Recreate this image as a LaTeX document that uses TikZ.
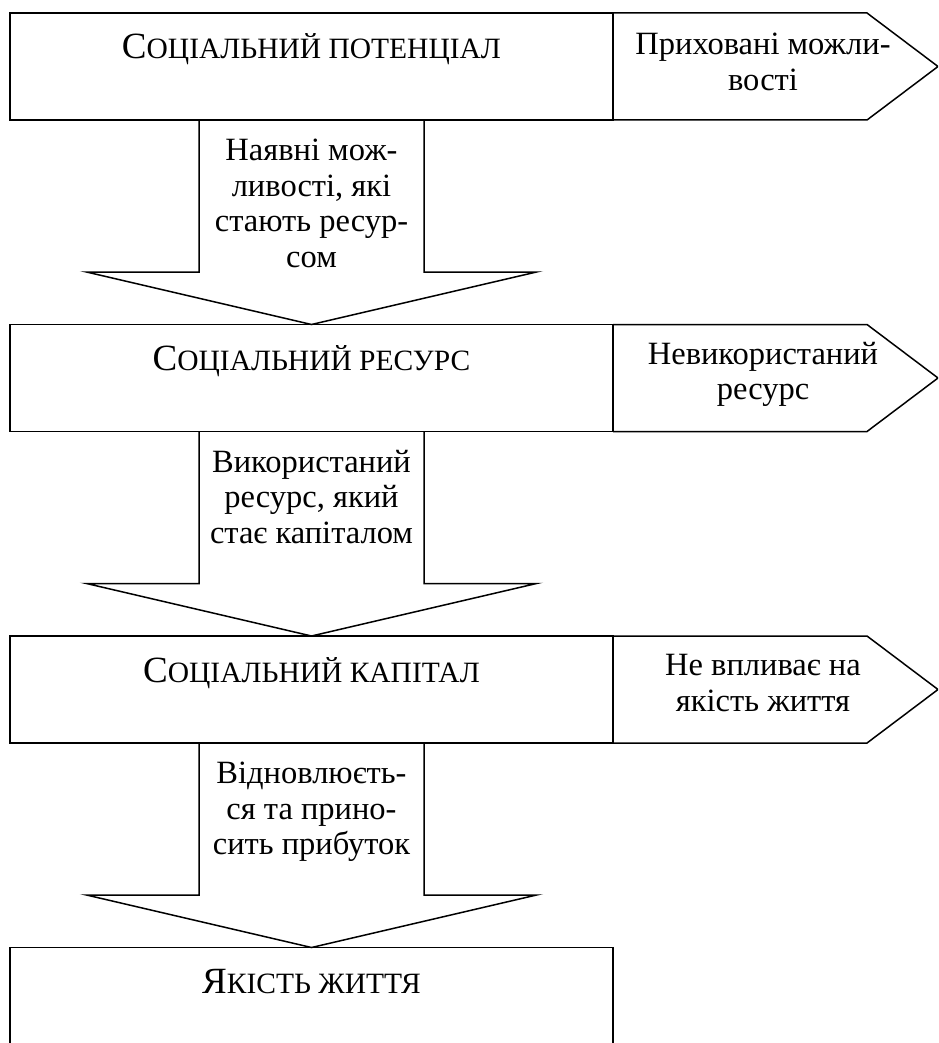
\documentclass[tikz,border=0pt]{standalone}
\usepackage{fontspec}
\setmainfont{Liberation Serif}
\usetikzlibrary{positioning,calc}

% fake small caps: upper-case letters set smaller
\newcommand{\fakesc}[1]{{\fontsize{29.5pt}{29.5pt}\selectfont #1}}

\begin{document}
\begin{tikzpicture}[
  x=1pt, y=-1pt,
  mainbox/.style={rectangle, draw=black, line width=1.5pt, outer sep=0pt,
                  minimum width=603pt, inner xsep=0pt, inner ysep=0pt,
                  text height=46pt, text depth=61pt,
                  font=\rmfamily\fontsize{37pt}{40pt}\selectfont},
  shaftbox/.style={rectangle, outer sep=0pt, inner sep=0pt,
                   minimum width=225pt, minimum height=152pt},
  sidebox/.style={rectangle, outer sep=0pt, inner sep=0pt,
                  minimum width=254pt, minimum height=107pt},
  lbl/.style={align=center, inner sep=0pt, outer sep=0pt,
              font=\rmfamily\fontsize{32.5pt}{35.5pt}\selectfont},
  outline/.style={draw=black, line width=1.5pt, line join=miter}
]
\path[use as bounding box, fill=white] (0,0) rectangle (938,1043);
\clip (0,0) rectangle (938,1043);

% ===== Level 1 — social potential =====================================
\node[mainbox, anchor=north] (pot) at (311.5,13) {С\fakesc{ОЦІАЛЬНИЙ ПОТЕНЦІАЛ}};
\node[sidebox, right=0pt of pot] (hid) {};
\node[lbl, below=17pt of hid.north, xshift=23pt] (hidtxt) {\strut Приховані можли-\\вості};
\node[shaftbox, below=0pt of pot] (sh1) {};
\node[lbl, below=16pt of sh1.north] (sh1txt)
  {\strut Наявні мож-\\ливості, які\\стають ресур-\\сом};

% ===== Level 2 — social resource ======================================
\node[mainbox, below=52.5pt of sh1] (res) {С\fakesc{ОЦІАЛЬНИЙ РЕСУРС}};
\node[sidebox, right=0pt of res] (unused) {};
\node[lbl, below=15pt of unused.north, xshift=23pt] (unusedtxt) {\strut Невикористаний\\ресурс};
\node[shaftbox, below=0pt of res] (sh2) {};
\node[lbl, below=16pt of sh2.north] (sh2txt)
  {\strut Використаний\\ресурс, який\\стає капіталом};

% ===== Level 3 — social capital =======================================
\node[mainbox, below=52.5pt of sh2] (cap) {С\fakesc{ОЦІАЛЬНИЙ КАПІТАЛ}};
\node[sidebox, right=0pt of cap] (noeff) {};
\node[lbl, below=15pt of noeff.north, xshift=23pt] (nofftxt) {\strut Не впливає на\\якість життя};
\node[shaftbox, below=0pt of cap] (sh3) {};
\node[lbl, below=16pt of sh3.north] (sh3txt)
  {\strut Відновлюєть-\\ся та прино-\\сить прибуток};

% ===== Level 4 — quality of life ======================================
\node[mainbox, below=52.5pt of sh3] (life) {Я\fakesc{КІСТЬ ЖИТТЯ}};

% ===== Side arrows (pointing right) =====
\draw[outline] (hid.north west) -- (hid.north east) -- ($(hid.east)+(71,0)$)
  -- (hid.south east) -- (hid.south west);
\draw[outline] (unused.north west) -- (unused.north east) -- ($(unused.east)+(71,0)$)
  -- (unused.south east) -- (unused.south west);
\draw[outline] (noeff.north west) -- (noeff.north east) -- ($(noeff.east)+(71,0)$)
  -- (noeff.south east) -- (noeff.south west);

% ===== Block arrows (pointing down) =====
\draw[outline] (sh1.north west) -- (sh1.south west) -- ++(-112.5,0) -- (res.north)
  -- ($(sh1.south east)+(112.5,0)$) -- (sh1.south east) -- (sh1.north east);
\draw[outline] (sh2.north west) -- (sh2.south west) -- ++(-112.5,0) -- (cap.north)
  -- ($(sh2.south east)+(112.5,0)$) -- (sh2.south east) -- (sh2.north east);
\draw[outline] (sh3.north west) -- (sh3.south west) -- ++(-112.5,0) -- (life.north)
  -- ($(sh3.south east)+(112.5,0)$) -- (sh3.south east) -- (sh3.north east);

\end{tikzpicture}
\end{document}
